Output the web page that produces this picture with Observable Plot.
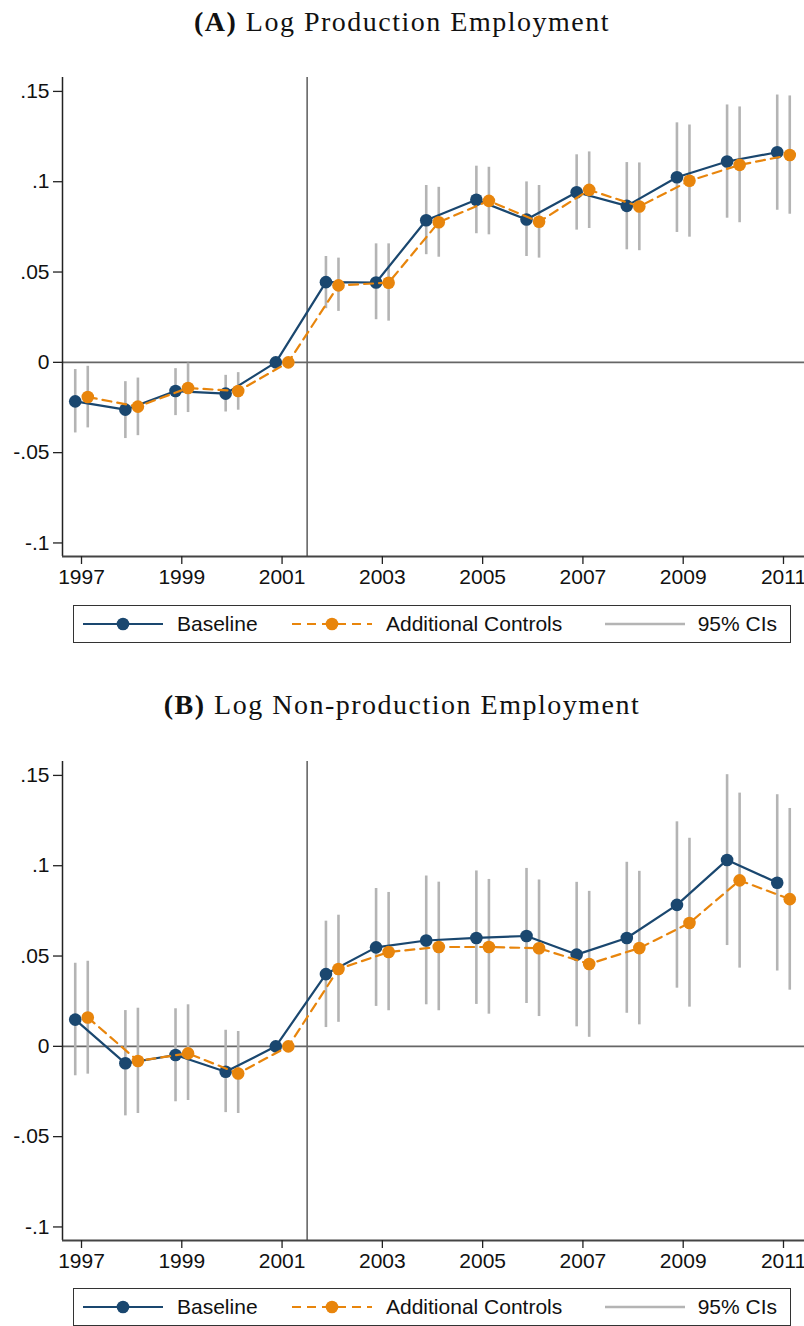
<!DOCTYPE html>
<html>
<head>
<meta charset="utf-8">
<script src="https://cdn.jsdelivr.net/npm/d3@7"></script>
<script src="https://cdn.jsdelivr.net/npm/@observablehq/plot@0.6"></script>
<style>
  html, body { margin: 0; padding: 0; background: #fff; }
  #page { position: relative; width: 804px; height: 1326px; overflow: hidden; }
  .title { position: absolute; left: 0; width: 804px; text-align: center;
    font-family: "Liberation Serif", "Times New Roman", serif; font-size: 28px;
    letter-spacing: 1.5px; color: #111; line-height: 1; white-space: nowrap; }
  .title b { font-weight: bold; }
  .panel { position: absolute; left: 0; }
  .legend { position: absolute; left: 73px; width: 716px; height: 36px;
    border: 1.5px solid #333; box-sizing: content-box;
    font-family: "Liberation Sans", Arial, sans-serif; font-size: 21px; color: #111; }
  .legend svg { position: absolute; left: 0; top: 0; }
  .legend span { position: absolute; top: 50%; transform: translateY(-50%); white-space: nowrap; }
</style>
</head>
<body>
<div id="page"></div>
<script>
// ---------- data ----------
const years = [1997, 1998, 1999, 2000, 2001, 2002, 2003, 2004, 2005, 2006, 2007, 2008, 2009, 2010, 2011];

// Panel A: Log Production Employment
const prodBaseline   = [-0.0216, -0.0262, -0.0159, -0.0173, 0, 0.0444, 0.0442, 0.0787, 0.0900, 0.0791, 0.0942, 0.0866, 0.1025, 0.1112, 0.1163];
const prodBaselineLo = [-0.0391, -0.0422, -0.0295, -0.0275, null, 0.0297, 0.0236, 0.0596, 0.0712, 0.0586, 0.0732, 0.0623, 0.0719, 0.0798, 0.0842];
const prodBaselineHi = [-0.0040, -0.0107, -0.0035, -0.0072, null, 0.0586, 0.0656, 0.0979, 0.1086, 0.0999, 0.1149, 0.1106, 0.1326, 0.1425, 0.1480];
const prodControls   = [-0.0192, -0.0245, -0.0142, -0.0159, 0, 0.0426, 0.0441, 0.0776, 0.0894, 0.0778, 0.0955, 0.0863, 0.1005, 0.1093, 0.1148];
const prodControlsLo = [-0.0363, -0.0406, -0.0278, -0.0265, null, 0.0282, 0.0228, 0.0582, 0.0706, 0.0577, 0.0741, 0.0618, 0.0693, 0.0773, 0.0820];
const prodControlsHi = [-0.0022, -0.0087, -0.0004, -0.0057, null, 0.0577, 0.0656, 0.0969, 0.1080, 0.0979, 0.1165, 0.1104, 0.1314, 0.1414, 0.1475];

// Panel B: Log Non-production Employment
const nonBaseline   = [0.0148, -0.0094, -0.0048, -0.0141, 0, 0.0400, 0.0548, 0.0586, 0.0600, 0.0611, 0.0508, 0.0600, 0.0783, 0.1032, 0.0906];
const nonBaselineLo = [-0.0163, -0.0385, -0.0307, -0.0367, null, 0.0104, 0.0221, 0.0230, 0.0232, 0.0237, 0.0108, 0.0183, 0.0322, 0.0558, 0.0417];
const nonBaselineHi = [0.0460, 0.0198, 0.0208, 0.0089, null, 0.0693, 0.0874, 0.0943, 0.0971, 0.0985, 0.0908, 0.1019, 0.1243, 0.1504, 0.1393];
const nonControls   = [0.0160, -0.0081, -0.0039, -0.0150, 0, 0.0428, 0.0522, 0.0550, 0.0550, 0.0543, 0.0456, 0.0544, 0.0683, 0.0919, 0.0815];
const nonControlsLo = [-0.0154, -0.0372, -0.0300, -0.0372, null, 0.0133, 0.0197, 0.0197, 0.0178, 0.0165, 0.0050, 0.0119, 0.0217, 0.0433, 0.0311];
const nonControlsHi = [0.0471, 0.0211, 0.0230, 0.0082, null, 0.0726, 0.0852, 0.0909, 0.0924, 0.0921, 0.0858, 0.0969, 0.1152, 0.1402, 0.1317];

// ticks and labels
const xTicks = [1997, 1999, 2001, 2003, 2005, 2007, 2009, 2011];
const yTicks = [-0.1, -0.05, 0, 0.05, 0.1, 0.15];
const yTickLabels = ["-.1", "-.05", "0", ".05", ".1", ".15"];
const seriesNames = ["Baseline", "Additional Controls", "95% CIs"];
const eventYear = 2001.5;
const panelTitles = [["(A)", "Log Production Employment"], ["(B)", "Log Non-production Employment"]];

// ---------- style ----------
const navy = "#1a476f", orange = "#e8850c", ciGray = "#b4b4b4", refGray = "#666666";
const xDomain = [1996.621, 2011.419];
const yDomain = [-0.1075, 0.1577];
const offset = 0.125;

function rows(base, bLo, bHi, ctrl, cLo, cHi) {
  return years.map((yr, i) => ({
    year: yr, base: base[i], bLo: bLo[i], bHi: bHi[i], ctrl: ctrl[i], cLo: cLo[i], cHi: cHi[i]
  }));
}

function panel(data) {
  const ci = data.filter(d => d.bLo != null);
  return Plot.plot({
    width: 804, height: 550,
    marginLeft: 62, marginRight: 0, marginTop: 27, marginBottom: 44,
    style: { fontFamily: "'Liberation Sans', Arial, sans-serif", fontSize: "21px", color: "#111", background: "transparent" },
    x: { domain: xDomain },
    y: { domain: yDomain },
    marks: [
      Plot.ruleY([0], { stroke: refGray, strokeWidth: 1.6 }),
      Plot.ruleX([eventYear], { stroke: refGray, strokeWidth: 1.6 }),
      Plot.ruleX(ci, { x: d => d.year - offset, y1: "bLo", y2: "bHi", stroke: ciGray, strokeWidth: 2.6 }),
      Plot.ruleX(ci, { x: d => d.year + offset, y1: "cLo", y2: "cHi", stroke: ciGray, strokeWidth: 2.6 }),
      Plot.line(data, { x: d => d.year - offset, y: "base", stroke: navy, strokeWidth: 2.2 }),
      Plot.dot(data, { x: d => d.year - offset, y: "base", r: 6.3, fill: navy, stroke: null }),
      Plot.line(data, { x: d => d.year + offset, y: "ctrl", stroke: orange, strokeWidth: 2.2, strokeDasharray: "9,6" }),
      Plot.dot(data, { x: d => d.year + offset, y: "ctrl", r: 6.3, fill: orange, stroke: null }),
      Plot.ruleX([xDomain[0]], { stroke: "#222", strokeWidth: 1.5 }),
      Plot.ruleY([yDomain[0]], { stroke: "#444", strokeWidth: 1.8 }),
      Plot.axisX({ ticks: xTicks, tickFormat: d => String(d), tickSize: 8, tickPadding: 5, stroke: "#222", strokeWidth: 1.3, label: null, fontSize: 21 }),
      Plot.axisY({ ticks: yTicks, tickFormat: d => yTickLabels[yTicks.indexOf(d)], tickSize: 9, tickPadding: 4, stroke: "#222", strokeWidth: 1.3, label: null, fontSize: 21 })
    ]
  });
}

function legend(top) {
  const box = document.createElement("div");
  box.className = "legend";
  box.style.top = top + "px";
  const ns = "http://www.w3.org/2000/svg";
  const svg = document.createElementNS(ns, "svg");
  svg.setAttribute("width", 716); svg.setAttribute("height", 36);
  const cy = 18;
  const add = (tag, attrs) => { const e = document.createElementNS(ns, tag); for (const k in attrs) e.setAttribute(k, attrs[k]); svg.appendChild(e); };
  add("line", { x1: 9, x2: 89, y1: cy, y2: cy, stroke: navy, "stroke-width": 2.2 });
  add("circle", { cx: 49, cy, r: 6.3, fill: navy });
  add("line", { x1: 218, x2: 298, y1: cy, y2: cy, stroke: orange, "stroke-width": 2.2, "stroke-dasharray": "9,6" });
  add("circle", { cx: 258, cy, r: 6.3, fill: orange });
  add("line", { x1: 531, x2: 611, y1: cy, y2: cy, stroke: ciGray, "stroke-width": 2.6 });
  box.appendChild(svg);
  const lbl = (txt, left, right) => { const s = document.createElement("span"); s.textContent = txt; if (left != null) s.style.left = left + "px"; else s.style.right = right + "px"; box.appendChild(s); };
  lbl(seriesNames[0], 103);
  lbl(seriesNames[1], 312);
  lbl(seriesNames[2], null, 13);
  return box;
}

function title(idx, top) {
  const t = document.createElement("div");
  t.className = "title";
  t.style.top = top + "px";
  const b = document.createElement("b"); b.textContent = panelTitles[idx][0];
  t.appendChild(b);
  t.appendChild(document.createTextNode(" " + panelTitles[idx][1]));
  return t;
}

const page = document.getElementById("page");
const dA = rows(prodBaseline, prodBaselineLo, prodBaselineHi, prodControls, prodControlsLo, prodControlsHi);
const dB = rows(nonBaseline, nonBaselineLo, nonBaselineHi, nonControls, nonControlsLo, nonControlsHi);

page.appendChild(title(0, 8));
const pA = panel(dA); pA.classList.add("panel"); pA.style.top = "50px"; page.appendChild(pA);
page.appendChild(legend(605));

page.appendChild(title(1, 691));
const pB = panel(dB); pB.classList.add("panel"); pB.style.top = "733.5px"; page.appendChild(pB);
page.appendChild(legend(1288));
</script>
</body>
</html>
